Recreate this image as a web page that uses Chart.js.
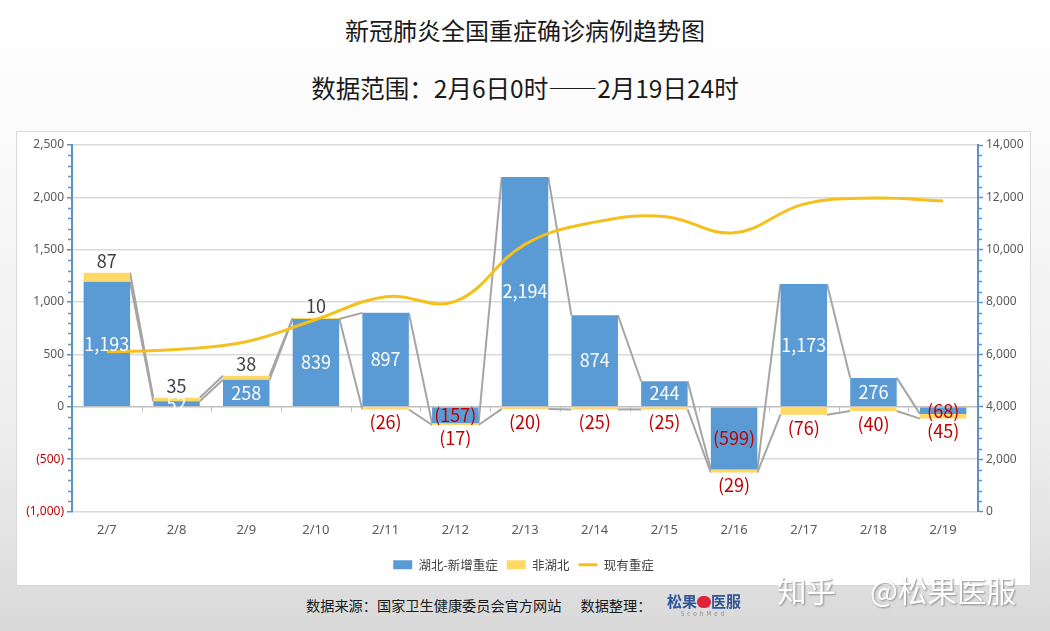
<!DOCTYPE html>
<html lang="zh">
<head>
<meta charset="UTF-8">
<title>新冠肺炎全国重症确诊病例趋势图</title>
<script src="https://cdn.jsdelivr.net/npm/chart.js"></script>
<style>
  html, body { margin: 0; padding: 0; }
  body {
    width: 1050px; height: 631px; position: relative; overflow: hidden;
    background: linear-gradient(to bottom, #ffffff 0%, #fbfbfb 20%, #ededed 70%, #d9d9d9 100%);
    font-family: "Noto Sans CJK SC", sans-serif;
  }
  .title { position: absolute; left: 0; width: 1050px; text-align: center; color: #1a1a1a; font-size: 24px; line-height: 32px; }
  .panel { position: absolute; left: 16px; top: 131px; width: 1013px; height: 453px; border: 1px solid #d9d9d9; background: #fff; }
  .footer { position: absolute; left: 306px; top: 595px; font-size: 14.2px; line-height: 20px; color: #1a1a1a; white-space: nowrap; }
  .logo { position: absolute; left: 666px; top: 592px; width: 76px; text-align: center; }
  .logo .name { font-size: 15px; font-weight: bold; color: #2f5597; line-height: 18px; }
  .logo .dot { display: inline-block; width: 14px; height: 12px; border-radius: 6px; background: #e0213a; vertical-align: -1px; }
  .logo .sub { font-size: 6px; color: #8a8a8a; letter-spacing: 3px; line-height: 8px; }
  .mark { position: absolute; left: 777px; top: 569px; font-size: 29.5px; line-height: 40px; color: #ffffff; text-shadow: 1px 1px 2px #8c8c8c; white-space: nowrap; }
  .mark span { margin-right: 34px; }
</style>
</head>
<body>
<div class="title" style="top:14px">新冠肺炎全国重症确诊病例趋势图</div>
<div class="title" style="top:72px;font-size:24.5px">数据范围：2月6日0时——2月19日24时</div>
<div class="panel"><canvas id="severeChart" width="1013" height="453"></canvas></div>
<div class="footer">数据来源：国家卫生健康委员会官方网站&nbsp;&nbsp;&nbsp;&nbsp;&nbsp;&nbsp;数据整理：</div>
<div class="logo"><div class="name">松果<span class="dot"></span>医服</div><div class="sub">ScohMed</div></div>
<div class="mark"><span>知乎</span>@松果医服</div>

<script>
// categories and series
const dates = ["2/7", "2/8", "2/9", "2/10", "2/11", "2/12", "2/13", "2/14", "2/15", "2/16", "2/17", "2/18", "2/19"];
const hubeiNew = [1193, 52, 258, 839, 897, -157, 2194, 874, 244, -599, 1173, 276, -68];
const otherNew = [87, 35, 38, 10, -26, -17, -20, -25, -25, -29, -76, -40, -45];
const currentSevere = [6101, 6188, 6484, 7333, 8204, 8030, 10204, 11053, 11272, 10644, 11741, 11977, 11864];

const axisBlue = "#5b93c7";
const red = "#c00000";

const fmt = v => Math.abs(v).toLocaleString("en-US");
const signed = v => v < 0 ? "(" + fmt(v) + ")" : fmt(v);

// minor ticks, category ticks on the zero line, series lines and value labels
const excelTouches = {
    id: "excelTouches",
    beforeDatasetsDraw(chart) {
        const ctx = chart.ctx;
        const { x, y, y1 } = chart.scales;
        ctx.save();
        ctx.strokeStyle = axisBlue;
        ctx.lineWidth = 1.5;
        for (let v = y.min; v <= y.max; v += 100) {
            if (v % 500 === 0) continue;
            const py = Math.round(y.getPixelForValue(v)) + 0.5;
            ctx.beginPath(); ctx.moveTo(y.right, py); ctx.lineTo(y.right - 4, py); ctx.stroke();
        }
        for (let v = y1.min; v <= y1.max; v += 400) {
            if (v % 2000 === 0) continue;
            const py = Math.round(y1.getPixelForValue(v)) + 0.5;
            ctx.beginPath(); ctx.moveTo(y1.left, py); ctx.lineTo(y1.left + 4, py); ctx.stroke();
        }

        const zero = y.getPixelForValue(0);
        const step = x.width / dates.length;
        ctx.strokeStyle = "#bfbfbf";
        ctx.lineWidth = 1;
        for (let i = 1; i < dates.length; i++) {
            const px = Math.round(x.getPixelForValue(i) - step / 2) + 0.5;
            ctx.beginPath(); ctx.moveTo(px, zero); ctx.lineTo(px, zero + 5); ctx.stroke();
        }

        ctx.strokeStyle = "#a5a5a5";
        ctx.lineWidth = 2;
        [0, 1].forEach(di => {
            const bars = chart.getDatasetMeta(di).data;
            for (let i = 0; i < bars.length - 1; i++) {
                const a = bars[i], b = bars[i + 1];
                ctx.beginPath();
                ctx.moveTo(a.x + a.width / 2, a.y);
                ctx.lineTo(b.x - b.width / 2, b.y);
                ctx.stroke();
            }
        });
        ctx.restore();
    },
    afterDatasetsDraw(chart) {
        const ctx = chart.ctx;
        const blue = chart.getDatasetMeta(0).data;
        const yellow = chart.getDatasetMeta(1).data;
        ctx.save();
        ctx.font = '18px "Noto Sans CJK SC"';
        ctx.textAlign = "center";
        hubeiNew.forEach((v, i) => {
            const b = blue[i];
            ctx.fillStyle = v < 0 ? red : "#ffffff";
            ctx.textBaseline = "middle";
            ctx.fillText(signed(v), b.x, (b.y + b.base) / 2);
        });
        otherNew.forEach((v, i) => {
            const b = yellow[i];
            if (v >= 0) {
                ctx.fillStyle = "#404040";
                ctx.textBaseline = "bottom";
                ctx.fillText(signed(v), b.x, b.y - 3);
            } else {
                ctx.fillStyle = red;
                ctx.textBaseline = "top";
                ctx.fillText(signed(v), b.x, b.y + 4);
            }
        });
        ctx.restore();
    }
};

const tickFont = { family: "Noto Sans", size: 12 };

new Chart(document.getElementById("severeChart"), {
    type: "bar",
    data: {
        labels: dates,
        datasets: [
            {
                label: "湖北-新增重症",
                data: hubeiNew,
                backgroundColor: "#5b9bd5",
                pointStyle: "rect",
                yAxisID: "y",
                order: 1
            },
            {
                label: "非湖北",
                data: otherNew,
                backgroundColor: "#ffd966",
                pointStyle: "rect",
                yAxisID: "y",
                order: 1
            },
            {
                type: "line",
                label: "现有重症",
                data: currentSevere,
                borderColor: "#f4c01e",
                backgroundColor: "#f4c01e",
                borderWidth: 3,
                pointRadius: 0,
                pointStyle: "line",
                tension: 0.4,
                yAxisID: "y1",
                order: 0
            }
        ]
    },
    options: {
        responsive: false,
        animation: false,
        devicePixelRatio: 1,
        barPercentage: 0.667,
        categoryPercentage: 1,
        layout: { padding: { top: 13, bottom: 4, left: 0, right: 0 } },
        plugins: {
            tooltip: { enabled: false },
            legend: {
                position: "bottom",
                labels: {
                    usePointStyle: true,
                    pointStyleWidth: 19,
                    boxHeight: 9,
                    padding: 9,
                    color: "#404040",
                    font: { family: "Noto Sans CJK SC", size: 12.5 },
                    sort: (a, b) => a.datasetIndex - b.datasetIndex
                }
            }
        },
        scales: {
            x: {
                stacked: true,
                grid: { display: false, drawTicks: false },
                border: { display: false },
                ticks: { color: "#595959", font: { family: "Noto Sans", size: 13 }, padding: 11 },
                afterFit: s => { s.height = 38; }
            },
            y: {
                stacked: true,
                position: "left",
                min: -1000,
                max: 2500,
                ticks: {
                    stepSize: 500,
                    padding: 3,
                    font: tickFont,
                    color: c => c.tick.value < 0 ? red : "#595959",
                    callback: v => signed(v)
                },
                grid: {
                    color: c => c.tick && c.tick.value === 0 ? "#bfbfbf" : "#d9d9d9",
                    lineWidth: 1.5,
                    tickColor: axisBlue,
                    tickLength: 5,
                    tickWidth: 1.5
                },
                border: { color: axisBlue, width: 2 },
                afterFit: s => { s.width = 55; }
            },
            y1: {
                position: "right",
                min: 0,
                max: 14000,
                ticks: {
                    stepSize: 2000,
                    padding: 3,
                    font: tickFont,
                    color: "#595959",
                    callback: v => fmt(v)
                },
                grid: {
                    drawOnChartArea: false,
                    tickColor: axisBlue,
                    tickLength: 5,
                    tickWidth: 1.5
                },
                border: { color: axisBlue, width: 2 },
                afterFit: s => { s.width = 52; }
            }
        }
    },
    plugins: [excelTouches]
});
</script>
</body>
</html>
